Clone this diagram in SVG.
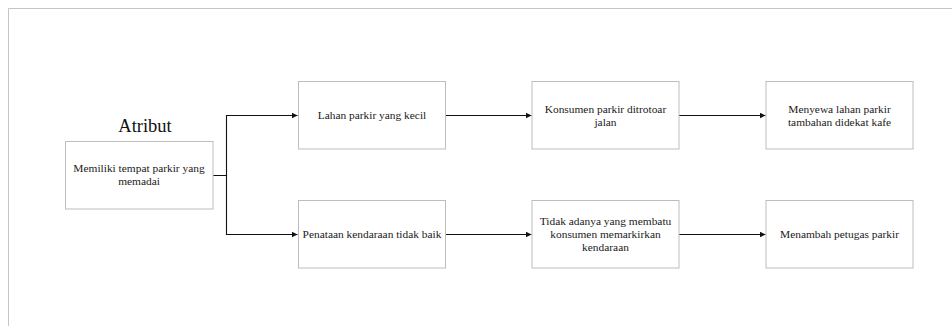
<svg xmlns="http://www.w3.org/2000/svg" width="952" height="326" viewBox="0 0 952 326">
<defs>
<style>
.frame{fill:none;stroke:#c4c4c4;stroke-width:1}
.box{fill:#ffffff;stroke:#bdbdbd;stroke-width:1}
.t{font-family:"Liberation Serif","Times New Roman",serif;font-size:11.4px;fill:#1a1a1a;text-anchor:middle}
.title{font-family:"Liberation Serif","Times New Roman",serif;font-size:18.5px;fill:#111;text-anchor:middle}
.edge{fill:none;stroke:#111;stroke-width:1.1}
</style>
<marker id="arr" viewBox="0 0 10 10" refX="10" refY="5" markerWidth="6" markerHeight="6" markerUnits="userSpaceOnUse" orient="auto">
<path d="M0,0 L10,5 L0,10 z" fill="#111"/>
</marker>
</defs>
<rect width="952" height="326" fill="#ffffff"/>
<path class="frame" d="M8.5,326 V8.5 H952"/>
<text class="title" x="145" y="132">Atribut</text>
<g id="edges">
<path class="edge" d="M213,175.5 H226.5 V115.5 H297.5" marker-end="url(#arr)"/>
<path class="edge" d="M213,175.5 H226.5 V234.5 H297.5" marker-end="url(#arr)"/>
<path class="edge" d="M446,115.5 H531.5" marker-end="url(#arr)"/>
<path class="edge" d="M679,115.5 H765.5" marker-end="url(#arr)"/>
<path class="edge" d="M446,234.5 H531.5" marker-end="url(#arr)"/>
<path class="edge" d="M679,234.5 H765.5" marker-end="url(#arr)"/>
</g>
<g id="n0">
<rect class="box" x="65.5" y="141.5" width="147.5" height="67.5"/>
<text class="t" x="139" y="172">Memiliki tempat parkir yang</text>
<text class="t" x="139" y="185">memadai</text>
</g>
<g id="n1">
<rect class="box" x="298.5" y="81.5" width="147" height="67.5"/>
<text class="t" x="372" y="119">Lahan parkir yang kecil</text>
</g>
<g id="n2">
<rect class="box" x="532" y="81.5" width="147" height="67.5"/>
<text class="t" x="605.5" y="112.5">Konsumen parkir ditrotoar</text>
<text class="t" x="605.5" y="125.5">jalan</text>
</g>
<g id="n3">
<rect class="box" x="766" y="81.5" width="147" height="67.5"/>
<text class="t" x="839.5" y="112.5">Menyewa lahan parkir</text>
<text class="t" x="839.5" y="125.5">tambahan didekat kafe</text>
</g>
<g id="n4">
<rect class="box" x="298.5" y="200.5" width="147" height="67.5"/>
<text class="t" x="372" y="238">Penataan kendaraan tidak baik</text>
</g>
<g id="n5">
<rect class="box" x="532" y="200.5" width="147" height="67.5"/>
<text class="t" x="605.5" y="224.5">Tidak adanya yang membatu</text>
<text class="t" x="605.5" y="237.8">konsumen memarkirkan</text>
<text class="t" x="605.5" y="251">kendaraan</text>
</g>
<g id="n6">
<rect class="box" x="766" y="200.5" width="147" height="67.5"/>
<text class="t" x="839.5" y="238">Menambah petugas parkir</text>
</g>
</svg>
